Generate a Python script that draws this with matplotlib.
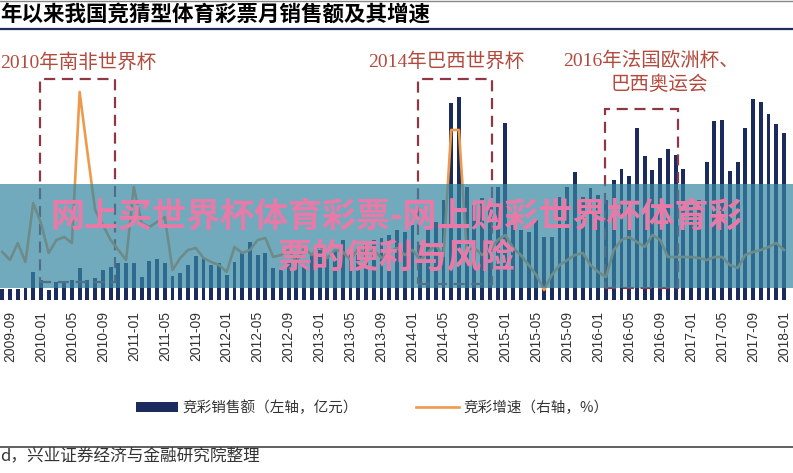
import numpy as np
import pandas as pd
import matplotlib
matplotlib.use("Agg")
import matplotlib.pyplot as plt
from matplotlib.patches import Rectangle
from matplotlib.lines import Line2D

plt.rcParams['font.family'] = ['Noto Sans CJK SC', 'DejaVu Sans']

# monthly data, 2009-08 .. 2018-01
months = pd.period_range('2009-08', '2018-01', freq='M').strftime('%Y-%m').tolist()

sales = [11, 11, 11, 12, 28, 20, 10, 18, 18, 20,
         32, 20, 22, 30, 33, 37, 37, 37, 23, 39,
         41, 37, 24, 27, 35, 44, 42, 35, 37, 25,
         38, 47, 58, 45, 47, 32, 30, 40, 42, 35,
         45, 50, 42, 50, 60, 52, 45, 55, 60, 62,
         65, 70, 68, 75, 55, 72, 78, 100, 197, 203,
         113, 95, 102, 95, 113, 177, 75, 70, 68, 80,
         63, 63, 103, 113, 128, 103, 112, 105, 100, 120,
         131, 124, 172, 144, 130, 142, 151, 145, 131, 95,
         100, 138, 179, 180, 129, 138, 172, 201, 198, 186,
         176, 167]

growth = [26, 10, 44, 6, 124, 84, 24, 50, 56, 44,
          346, 226, 110, 80, 50, 30, 10, 156, 84, 76,
          86, 96, -10, 14, 30, 34, 14, 6, 0, -14,
          36, 24, 30, 50, 54, 16, 20, 30, 6, 34,
          20, 40, 14, 30, 26, 10, 34, 20, 30, 14,
          26, 34, 20, 30, 10, 26, 40, 18, 270, 270,
          30, 34, 20, 30, 50, 60, 34, 20, 0, -20,
          -50, -20, 0, 10, 20, 24, 0, -14, -24, 30,
          50, 56, 46, 36, 60, 50, 16, 16, 16, 16,
          14, 10, 16, 16, 0, -6, 20, 26, 30, 36,
          44, 30]

tick_labels = ['2009-09', '2010-01', '2010-05', '2010-09', '2011-01', '2011-05',
               '2011-09', '2012-01', '2012-05', '2012-09', '2013-01', '2013-05',
               '2013-09', '2014-01', '2014-05', '2014-09', '2015-01', '2015-05',
               '2015-09', '2016-01', '2016-05', '2016-09', '2017-01', '2017-05',
               '2017-09', '2018-01']

# event windows (x from, x to, y from, y to) in month position / left axis units
boxes = [(4.9, 14.6, 18, 221), (53.7, 63.3, 16, 221), (77.9, 87.3, 12, 191)]

W, H = 793, 473
fig = plt.figure(figsize=(W / 100, H / 100), dpi=100)
ax = fig.add_axes([0, 1 - 300 / H, 1, 240 / H])
ax2 = ax.twinx()

x = np.arange(len(months))
navy = '#1c2b5e'
orange = '#ee9a4d'
bars = ax.bar(x, sales, width=0.5, color=navy, zorder=2)
line, = ax2.plot(x, growth, color=orange, lw=1.9, zorder=3)

ax.set_xlim(-0.29, 102.16)
ax.set_ylim(0, 240)
ax2.set_ylim(-70, 410)

tick_pos = [months.index(t) for t in tick_labels]
ax.set_xticks(tick_pos)
ax.set_xticklabels(tick_labels, rotation=90, fontsize=10,
                   family=['Liberation Sans', 'DejaVu Sans'], color='#333333')
ax.tick_params(axis='x', length=0, pad=8)
ax.set_yticks([])
ax2.set_yticks([])
for a in (ax, ax2):
    for s in a.spines.values():
        s.set_visible(False)

for x0, x1, y0, y1 in boxes:
    ax.add_patch(Rectangle((x0, y0), x1 - x0, y1 - y0, fill=False,
                           edgecolor='#8e3845', lw=1.6, linestyle=(0, (5, 3)),
                           zorder=4))

red = '#b24a3e'
serif = ['Liberation Serif', 'Noto Sans CJK SC']
fig.text(0 / W, 1 - 63 / H, '2010年南非世界杯', fontsize=14, color=red,
         family=serif, va='center', ha='left')
fig.text(446 / W, 1 - 62 / H, '2014年巴西世界杯', fontsize=14, color=red,
         family=serif, va='center', ha='center')
fig.text(651 / W, 1 - 61 / H, '2016年法国欧洲杯、', fontsize=14, color=red,
         family=serif, va='center', ha='center')
fig.text(659 / W, 1 - 85 / H, '巴西奥运会', fontsize=14, color=red,
         family=serif, va='center', ha='center')

# title and rules
fig.text(0, 1 - 14 / H, '年以来我国竞猜型体育彩票月销售额及其增速',
         fontsize=15.5, fontweight='bold', color='black', va='center', ha='left')
fig.add_artist(Line2D([0, 1], [1 - 1 / H, 1 - 1 / H], color='#888888', lw=1))
fig.add_artist(Line2D([0, 1], [1 - 29 / H, 1 - 29 / H], color='#1f2d5a', lw=1.6))
fig.add_artist(Line2D([0, 1], [1 - 447 / H, 1 - 447 / H], color='#444444', lw=1.2))

fig.legend([bars, line], ['竞彩销售额（左轴，亿元）', '竞彩增速（右轴，%）'],
           loc='center', bbox_to_anchor=(372 / W, 1 - 408 / H), ncol=2,
           frameon=False, fontsize=10.5, handlelength=2.9, handletextpad=0.3,
           columnspacing=4.0, labelcolor='#333333')

fig.text(0, 1 - 456 / H, 'd，兴业证券经济与金融研究院整理', fontsize=12,
         color='#333333', va='center', ha='left')

# banner overlay
fig.add_artist(Rectangle((0, 1 - 288 / H), 1, 104 / H, transform=fig.transFigure,
                         facecolor='#3786a2', alpha=0.7, edgecolor='none', zorder=5))
fig.text(397 / W, 1 - 216 / H, '网上买世界杯体育彩票-网上购彩世界杯体育彩',
         fontsize=24.5, fontweight='bold', color='#e87aa8', ha='center',
         va='center', zorder=6)
fig.text(397 / W, 1 - 257 / H, '票的便利与风险', fontsize=24.5, fontweight='bold',
         color='#e87aa8', ha='center', va='center', zorder=6)

fig.savefig('out.png', dpi=100)
